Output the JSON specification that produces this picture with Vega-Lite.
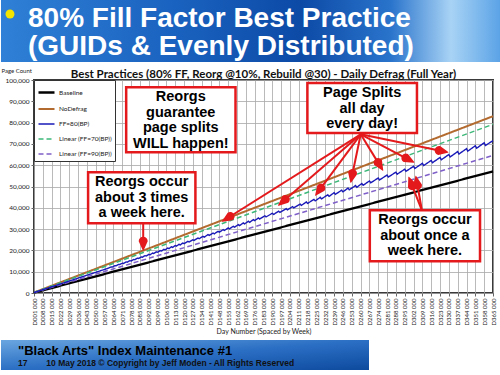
{
  "$schema": "https://vega.github.io/schema/vega-lite/v6.json",
  "background": "white",
  "padding": 0,
  "config": {"view": {"stroke": null}, "font": "Lato"},
  "datasets": {
    "series": [
      {"s": "Baseline", "day": 1, "pages": 160},
      {"s": "Baseline", "day": 365, "pages": 57100},
      {"s": "NoDefrag", "day": 1, "pages": 230},
      {"s": "NoDefrag", "day": 365, "pages": 83000},
      {"s": "Linear (FF=70(BP))", "day": 1, "pages": 220},
      {"s": "Linear (FF=70(BP))", "day": 365, "pages": 79200},
      {"s": "Linear (FF=90(BP))", "day": 1, "pages": 180},
      {"s": "Linear (FF=90(BP))", "day": 365, "pages": 64600},
      {"s": "FF=80(BP)", "day": 1, "pages": 190},
      {"s": "FF=80(BP)", "day": 30, "pages": 5830},
      {"s": "FF=80(BP)", "day": 60, "pages": 11650},
      {"s": "FF=80(BP)", "day": 62, "pages": 12218},
      {"s": "FF=80(BP)", "day": 63, "pages": 12159},
      {"s": "FF=80(BP)", "day": 65, "pages": 12809},
      {"s": "FF=80(BP)", "day": 66, "pages": 12738},
      {"s": "FF=80(BP)", "day": 68, "pages": 13400},
      {"s": "FF=80(BP)", "day": 69, "pages": 13317},
      {"s": "FF=80(BP)", "day": 71, "pages": 13991},
      {"s": "FF=80(BP)", "day": 72, "pages": 13896},
      {"s": "FF=80(BP)", "day": 74, "pages": 14582},
      {"s": "FF=80(BP)", "day": 75, "pages": 14475},
      {"s": "FF=80(BP)", "day": 77, "pages": 15173},
      {"s": "FF=80(BP)", "day": 78, "pages": 15054},
      {"s": "FF=80(BP)", "day": 80, "pages": 15764},
      {"s": "FF=80(BP)", "day": 81, "pages": 15633},
      {"s": "FF=80(BP)", "day": 83, "pages": 16355},
      {"s": "FF=80(BP)", "day": 84, "pages": 16212},
      {"s": "FF=80(BP)", "day": 86, "pages": 16946},
      {"s": "FF=80(BP)", "day": 87, "pages": 16791},
      {"s": "FF=80(BP)", "day": 89, "pages": 17537},
      {"s": "FF=80(BP)", "day": 90, "pages": 17370},
      {"s": "FF=80(BP)", "day": 92, "pages": 18128},
      {"s": "FF=80(BP)", "day": 93, "pages": 17949},
      {"s": "FF=80(BP)", "day": 95, "pages": 18719},
      {"s": "FF=80(BP)", "day": 96, "pages": 18528},
      {"s": "FF=80(BP)", "day": 98, "pages": 19310},
      {"s": "FF=80(BP)", "day": 99, "pages": 19107},
      {"s": "FF=80(BP)", "day": 101, "pages": 19901},
      {"s": "FF=80(BP)", "day": 102, "pages": 19686},
      {"s": "FF=80(BP)", "day": 104, "pages": 20492},
      {"s": "FF=80(BP)", "day": 105, "pages": 20265},
      {"s": "FF=80(BP)", "day": 107, "pages": 21083},
      {"s": "FF=80(BP)", "day": 108, "pages": 20844},
      {"s": "FF=80(BP)", "day": 110, "pages": 21674},
      {"s": "FF=80(BP)", "day": 111, "pages": 21423},
      {"s": "FF=80(BP)", "day": 113, "pages": 22265},
      {"s": "FF=80(BP)", "day": 114, "pages": 22002},
      {"s": "FF=80(BP)", "day": 116, "pages": 22856},
      {"s": "FF=80(BP)", "day": 117, "pages": 22581},
      {"s": "FF=80(BP)", "day": 119, "pages": 23447},
      {"s": "FF=80(BP)", "day": 120, "pages": 23160},
      {"s": "FF=80(BP)", "day": 123, "pages": 24235},
      {"s": "FF=80(BP)", "day": 124, "pages": 23932},
      {"s": "FF=80(BP)", "day": 127, "pages": 25023},
      {"s": "FF=80(BP)", "day": 128, "pages": 24704},
      {"s": "FF=80(BP)", "day": 131, "pages": 25811},
      {"s": "FF=80(BP)", "day": 132, "pages": 25476},
      {"s": "FF=80(BP)", "day": 135, "pages": 26599},
      {"s": "FF=80(BP)", "day": 136, "pages": 26248},
      {"s": "FF=80(BP)", "day": 139, "pages": 27387},
      {"s": "FF=80(BP)", "day": 140, "pages": 27020},
      {"s": "FF=80(BP)", "day": 143, "pages": 28175},
      {"s": "FF=80(BP)", "day": 144, "pages": 27792},
      {"s": "FF=80(BP)", "day": 147, "pages": 28963},
      {"s": "FF=80(BP)", "day": 148, "pages": 28564},
      {"s": "FF=80(BP)", "day": 151, "pages": 29751},
      {"s": "FF=80(BP)", "day": 152, "pages": 29336},
      {"s": "FF=80(BP)", "day": 155, "pages": 30539},
      {"s": "FF=80(BP)", "day": 156, "pages": 30108},
      {"s": "FF=80(BP)", "day": 159, "pages": 31327},
      {"s": "FF=80(BP)", "day": 160, "pages": 30880},
      {"s": "FF=80(BP)", "day": 163, "pages": 32115},
      {"s": "FF=80(BP)", "day": 164, "pages": 31652},
      {"s": "FF=80(BP)", "day": 167, "pages": 32903},
      {"s": "FF=80(BP)", "day": 168, "pages": 32424},
      {"s": "FF=80(BP)", "day": 171, "pages": 33691},
      {"s": "FF=80(BP)", "day": 172, "pages": 33196},
      {"s": "FF=80(BP)", "day": 175, "pages": 34479},
      {"s": "FF=80(BP)", "day": 176, "pages": 33968},
      {"s": "FF=80(BP)", "day": 179, "pages": 35267},
      {"s": "FF=80(BP)", "day": 180, "pages": 34740},
      {"s": "FF=80(BP)", "day": 184, "pages": 36252},
      {"s": "FF=80(BP)", "day": 185, "pages": 35705},
      {"s": "FF=80(BP)", "day": 190, "pages": 37434},
      {"s": "FF=80(BP)", "day": 191, "pages": 36863},
      {"s": "FF=80(BP)", "day": 195, "pages": 38419},
      {"s": "FF=80(BP)", "day": 196, "pages": 37828},
      {"s": "FF=80(BP)", "day": 201, "pages": 39601},
      {"s": "FF=80(BP)", "day": 202, "pages": 38986},
      {"s": "FF=80(BP)", "day": 206, "pages": 40586},
      {"s": "FF=80(BP)", "day": 207, "pages": 39951},
      {"s": "FF=80(BP)", "day": 212, "pages": 41768},
      {"s": "FF=80(BP)", "day": 213, "pages": 41109},
      {"s": "FF=80(BP)", "day": 217, "pages": 42753},
      {"s": "FF=80(BP)", "day": 218, "pages": 42074},
      {"s": "FF=80(BP)", "day": 223, "pages": 43935},
      {"s": "FF=80(BP)", "day": 224, "pages": 43232},
      {"s": "FF=80(BP)", "day": 228, "pages": 44920},
      {"s": "FF=80(BP)", "day": 229, "pages": 44197},
      {"s": "FF=80(BP)", "day": 234, "pages": 46102},
      {"s": "FF=80(BP)", "day": 235, "pages": 45355},
      {"s": "FF=80(BP)", "day": 239, "pages": 47087},
      {"s": "FF=80(BP)", "day": 240, "pages": 46320},
      {"s": "FF=80(BP)", "day": 245, "pages": 48269},
      {"s": "FF=80(BP)", "day": 246, "pages": 47478},
      {"s": "FF=80(BP)", "day": 250, "pages": 49254},
      {"s": "FF=80(BP)", "day": 251, "pages": 48443},
      {"s": "FF=80(BP)", "day": 256, "pages": 50436},
      {"s": "FF=80(BP)", "day": 257, "pages": 49601},
      {"s": "FF=80(BP)", "day": 261, "pages": 51421},
      {"s": "FF=80(BP)", "day": 262, "pages": 50566},
      {"s": "FF=80(BP)", "day": 267, "pages": 52603},
      {"s": "FF=80(BP)", "day": 268, "pages": 51724},
      {"s": "FF=80(BP)", "day": 274, "pages": 53982},
      {"s": "FF=80(BP)", "day": 275, "pages": 53075},
      {"s": "FF=80(BP)", "day": 281, "pages": 55361},
      {"s": "FF=80(BP)", "day": 282, "pages": 54426},
      {"s": "FF=80(BP)", "day": 288, "pages": 56740},
      {"s": "FF=80(BP)", "day": 289, "pages": 55777},
      {"s": "FF=80(BP)", "day": 295, "pages": 58119},
      {"s": "FF=80(BP)", "day": 296, "pages": 57128},
      {"s": "FF=80(BP)", "day": 302, "pages": 59498},
      {"s": "FF=80(BP)", "day": 303, "pages": 58479},
      {"s": "FF=80(BP)", "day": 309, "pages": 60877},
      {"s": "FF=80(BP)", "day": 310, "pages": 59830},
      {"s": "FF=80(BP)", "day": 316, "pages": 62256},
      {"s": "FF=80(BP)", "day": 317, "pages": 61181},
      {"s": "FF=80(BP)", "day": 323, "pages": 63635},
      {"s": "FF=80(BP)", "day": 324, "pages": 62532},
      {"s": "FF=80(BP)", "day": 330, "pages": 65014},
      {"s": "FF=80(BP)", "day": 331, "pages": 63883},
      {"s": "FF=80(BP)", "day": 337, "pages": 66393},
      {"s": "FF=80(BP)", "day": 338, "pages": 65234},
      {"s": "FF=80(BP)", "day": 344, "pages": 67772},
      {"s": "FF=80(BP)", "day": 345, "pages": 66585},
      {"s": "FF=80(BP)", "day": 351, "pages": 69151},
      {"s": "FF=80(BP)", "day": 352, "pages": 67936},
      {"s": "FF=80(BP)", "day": 358, "pages": 70530},
      {"s": "FF=80(BP)", "day": 359, "pages": 69287},
      {"s": "FF=80(BP)", "day": 365, "pages": 71500}
    ],
    "notes": [
      {"day": 74.1, "day2": 160.8, "pages": 66060, "pages2": 96580, "cx": 117.4, "cy": 91880, "label": "Reorgs\nguarantee\npage splits\nWILL happen!"},
      {"day": 217.8, "day2": 304.7, "pages": 75120, "pages2": 98590, "cx": 261.2, "cy": 93760, "label": "Page Splits\nall day\nevery day!"},
      {"day": 43.9, "day2": 129, "pages": 32720, "pages2": 56670, "cx": 86.4, "cy": 51970, "label": "Reorgs occur\nabout 3 times\na week here."},
      {"day": 267.3, "day2": 354.7, "pages": 14880, "pages2": 38830, "cx": 311, "cy": 34130, "label": "Reorgs occur\nabout once a\nweek here."}
    ],
    "arrows": [
      {"id": "a1", "day": 87.6, "pages": 32720, "day2": 87.6, "pages2": 24270},
      {"id": "p1", "day": 260.1, "pages": 74510, "day2": 156.5, "pages2": 35920},
      {"id": "p2", "day": 260.1, "pages": 74510, "day2": 200.3, "pages2": 43950},
      {"id": "p3", "day": 260.1, "pages": 74510, "day2": 228.5, "pages2": 49250},
      {"id": "p4", "day": 260.1, "pages": 74510, "day2": 253.6, "pages2": 56100},
      {"id": "p5", "day": 260.1, "pages": 74510, "day2": 273.9, "pages2": 61220},
      {"id": "p6", "day": 260.1, "pages": 74510, "day2": 295.9, "pages2": 63340},
      {"id": "p7", "day": 260.1, "pages": 74510, "day2": 322.3, "pages2": 66900},
      {"id": "b1", "day": 308.6, "pages": 38830, "day2": 300.9, "pages2": 50380},
      {"id": "b2", "day": 308.6, "pages": 38830, "day2": 305.1, "pages2": 50610}
    ],
    "heads": [
      {"id": "a1", "part": "tip", "day": 87.6, "pages": 20050},
      {"id": "a1", "part": "neck", "day": 87.6, "pages": 24270},
      {"id": "p1", "part": "tip", "day": 150.4, "pages": 33660},
      {"id": "p1", "part": "neck", "day": 156.5, "pages": 35920},
      {"id": "p2", "part": "tip", "day": 194.9, "pages": 41180},
      {"id": "p2", "part": "neck", "day": 200.3, "pages": 43950},
      {"id": "p3", "part": "tip", "day": 224.3, "pages": 45870},
      {"id": "p3", "part": "neck", "day": 228.5, "pages": 49250},
      {"id": "p4", "part": "tip", "day": 252.2, "pages": 51970},
      {"id": "p4", "part": "neck", "day": 253.6, "pages": 56100},
      {"id": "p5", "part": "tip", "day": 277.6, "pages": 57610},
      {"id": "p5", "part": "neck", "day": 273.9, "pages": 61220},
      {"id": "p6", "part": "tip", "day": 302.2, "pages": 61360},
      {"id": "p6", "part": "neck", "day": 295.9, "pages": 63340},
      {"id": "p7", "part": "tip", "day": 329.2, "pages": 66060},
      {"id": "p7", "part": "neck", "day": 322.3, "pages": 66900},
      {"id": "b1", "part": "tip", "day": 298.2, "pages": 54320},
      {"id": "b1", "part": "neck", "day": 300.9, "pages": 50380},
      {"id": "b2", "part": "tip", "day": 303.8, "pages": 54790},
      {"id": "b2", "part": "neck", "day": 305.1, "pages": 50610}
    ]
  },
  "columns": 1,
  "spacing": 4,
  "resolve": {
    "scale": {"color": "independent", "strokeDash": "independent", "strokeWidth": "independent", "size": "independent"},
    "legend": {"color": "independent", "strokeDash": "independent"}
  },
  "concat": [
    {
      "width": 467,
      "height": 62,
      "data": {"values": [{"k": 1}]},
      "title": {
        "text": ["80% Fill Factor Best Practice", "(GUIDs & Evenly Distributed)"],
        "anchor": "start", "frame": "group", "orient": "top",
        "dx": -6, "offset": -61, "baseline": "top",
        "font": "Liberation Sans", "fontSize": 28, "fontWeight": "bold",
        "color": "white", "lineHeight": 28
      },
      "layer": [
        {
          "mark": {"type": "rect", "fill": {"gradient": "linear", "x1": 0, "y1": 0, "x2": 1, "y2": 0,
            "stops": [
              {"offset": 0, "color": "#2f80d6"},
              {"offset": 0.35, "color": "#1a62bf"},
              {"offset": 0.6, "color": "#0c4aa6"},
              {"offset": 0.78, "color": "#2a74cc"},
              {"offset": 0.9, "color": "#a8d3f5"},
              {"offset": 1, "color": "#5aa2e6"}
            ]}},
          "encoding": {
            "x": {"datum": -33, "type": "quantitative", "scale": {"domain": [0, 467], "nice": false, "zero": false}, "axis": null},
            "x2": {"datum": 467}
          }
        },
        {
          "mark": {"type": "point", "filled": true, "fill": "#f3e500", "size": 80, "opacity": 1},
          "encoding": {
            "x": {"datum": -24, "type": "quantitative"},
            "y": {"datum": 77.4, "type": "quantitative", "scale": {"domain": [0, 100], "nice": false, "zero": false}, "axis": null}
          }
        }
      ]
    },
    {
      "width": 459,
      "height": 213,
      "view": {"stroke": "#3a3a3a", "strokeWidth": 2},
      "title": {
        "text": "Best Practices (80% FF, Reorg @10%, Rebuild @30) - Daily Defrag (Full Year)",
        "font": "Lato", "fontSize": 11.5, "fontWeight": "bold", "color": "#111",
        "anchor": "middle", "frame": "group", "offset": -13
      },
      "layer": [
        {
          "data": {"name": "series"},
          "mark": {"type": "line"},
          "encoding": {
            "x": {"field": "day", "type": "quantitative",
              "scale": {"domain": [1, 365], "nice": false, "zero": false},
              "axis": {
                "values": [1,8,15,22,29,36,43,50,57,64,71,78,85,92,99,106,113,120,127,134,141,148,155,162,169,176,183,190,197,204,211,218,225,232,239,246,253,260,267,274,281,288,295,302,309,316,323,330,337,344,351,358,365],
                "tickCount": 100,
                "labelExpr": "'D' + format(datum.value, '03d') + ' 000'",
                "labelAngle": -90, "labelAlign": "right", "labelBaseline": "middle",
                "labelFontSize": 6, "labelPadding": 2, "labelOverlap": false, "labelFlush": false, "labelBound": false,
                "labelColor": "#222", "tickSize": 3, "tickColor": "#666",
                "grid": true, "gridColor": "#a8a8a8", "gridWidth": 0.8, "domain": false,
                "title": "Day Number (Spaced by Week)", "titleFontSize": 7, "titleFontWeight": "normal",
                "titlePadding": 3, "titleColor": "#222"
              }
            },
            "y": {"field": "pages", "type": "quantitative",
              "scale": {"domain": [0, 100000], "nice": false},
              "axis": {
                "values": [0,10000,20000,30000,40000,50000,60000,70000,80000,90000,100000],
                "tickCount": 20,
                "format": ",d", "labelFontSize": 6.5, "labelPadding": 2, "labelColor": "#222", "labelOverlap": false,
                "tickSize": 3, "tickColor": "#666",
                "grid": true, "gridColor": "#a8a8a8", "gridWidth": 0.8, "domain": false,
                "title": "Page Count", "titleAngle": 0, "titleAlign": "left", "titleBaseline": "bottom",
                "titleX": -33, "titleY": -7, "titleFontSize": 6, "titleFontWeight": "normal", "titleColor": "#222"
              }
            },
            "color": {"field": "s", "type": "nominal",
              "scale": {"domain": ["Baseline", "NoDefrag", "FF=80(BP)", "Linear (FF=70(BP))", "Linear (FF=90(BP))"],
                        "range": ["#000000", "#b36a2e", "#1a1ab8", "#3cb878", "#7f5fc8"]},
              "legend": {"orient": "top-left", "title": null, "offset": 0, "padding": 3, "fillColor": "white",
                "strokeColor": "#333", "symbolType": "stroke", "symbolSize": 256, "symbolStrokeWidth": 1.8,
                "labelFontSize": 6.5, "labelFont": "Lato", "rowPadding": 2, "labelOffset": 3, "labelColor": "#222"}
            },
            "strokeDash": {"field": "s", "type": "nominal",
              "scale": {"domain": ["Baseline", "NoDefrag", "FF=80(BP)", "Linear (FF=70(BP))", "Linear (FF=90(BP))"],
                        "range": [[1, 0], [1, 0], [1, 0], [5, 3], [5, 3]]},
              "legend": {"orient": "top-left", "title": null, "offset": 0, "padding": 3, "fillColor": "white",
                "strokeColor": "#333", "symbolType": "stroke", "symbolSize": 256, "symbolStrokeWidth": 1.8,
                "labelFontSize": 6.5, "labelFont": "Lato", "rowPadding": 2, "labelOffset": 3, "labelColor": "#222"}
            },
            "strokeWidth": {"field": "s", "type": "nominal",
              "scale": {"type": "ordinal", "domain": ["Baseline", "NoDefrag", "FF=80(BP)", "Linear (FF=70(BP))", "Linear (FF=90(BP))"],
                        "range": [2.3, 2, 1.4, 1.5, 1.5]},
              "legend": null
            }
          }
        },
        {
          "data": {"name": "notes"},
          "mark": {"type": "rect", "fill": "white", "stroke": "#e3191c", "strokeWidth": 2.5},
          "encoding": {
            "x": {"field": "day", "type": "quantitative"},
            "x2": {"field": "day2"},
            "y": {"field": "pages", "type": "quantitative"},
            "y2": {"field": "pages2"}
          }
        },
        {
          "data": {"name": "notes"},
          "mark": {"type": "text", "font": "Liberation Sans", "fontWeight": "bold", "fontSize": 14.5,
                   "lineHeight": 15.5, "lineBreak": "\n", "align": "center", "baseline": "middle", "color": "black"},
          "encoding": {
            "x": {"field": "cx", "type": "quantitative"},
            "y": {"field": "cy", "type": "quantitative"},
            "text": {"field": "label", "type": "nominal"}
          }
        },
        {
          "data": {"name": "arrows"},
          "mark": {"type": "rule", "color": "#e3191c", "strokeWidth": 2},
          "encoding": {
            "x": {"field": "day", "type": "quantitative"},
            "y": {"field": "pages", "type": "quantitative"},
            "x2": {"field": "day2"},
            "y2": {"field": "pages2"}
          }
        },
        {
          "data": {"name": "heads"},
          "mark": {"type": "trail", "color": "#e3191c"},
          "encoding": {
            "x": {"field": "day", "type": "quantitative"},
            "y": {"field": "pages", "type": "quantitative"},
            "detail": {"field": "id", "type": "nominal"},
            "size": {"field": "part", "type": "nominal",
              "scale": {"type": "ordinal", "domain": ["tip", "neck"], "range": [0, 9]}, "legend": null}
          }
        }
      ]
    },
    {
      "width": 467,
      "height": 30,
      "data": {"values": [{"k": 1}]},
      "title": {
        "text": "\"Black Arts\" Index Maintenance #1",
        "subtitle": "17\u00a0\u00a0\u00a0\u00a0\u00a0\u00a0\u00a0\u00a010 May 2018 \u00a9 Copyright by Jeff Moden - All Rights Reserved",
        "anchor": "start", "frame": "group", "orient": "top",
        "dx": -16, "offset": -27, "baseline": "top",
        "font": "Liberation Sans", "fontSize": 13, "fontWeight": "bold", "color": "#000",
        "subtitleFont": "Liberation Sans", "subtitleFontSize": 8.5, "subtitleFontWeight": "bold",
        "subtitleColor": "#111", "subtitlePadding": 1
      },
      "layer": [
        {
          "mark": {"type": "rect", "fill": {"gradient": "linear", "x1": 0, "y1": 0, "x2": 1, "y2": 1,
            "stops": [
              {"offset": 0, "color": "#6aa6e0"},
              {"offset": 0.5, "color": "#2b6fc4"},
              {"offset": 1, "color": "#0d4a9e"}
            ]}},
          "encoding": {
            "x": {"datum": -33, "type": "quantitative", "scale": {"domain": [0, 467], "nice": false, "zero": false}, "axis": null},
            "x2": {"datum": 335}
          }
        }
      ]
    }
  ]
}
